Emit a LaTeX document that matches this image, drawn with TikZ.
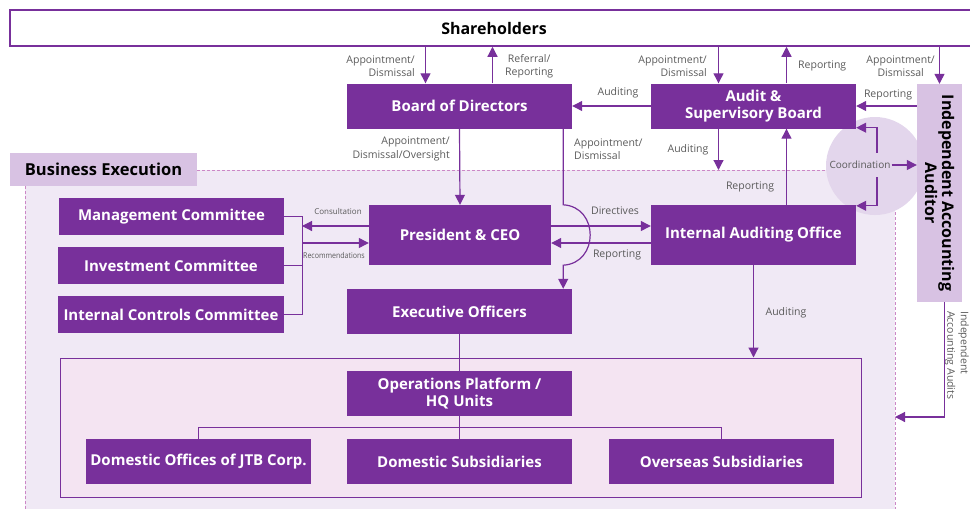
\documentclass[tikz,border=0pt]{standalone}
\usepackage{fontspec}
\setmainfont{Open Sans}
\newfontfamily\condfont[FakeStretch=0.88]{Open Sans}
\usetikzlibrary{arrows.meta}

\definecolor{jtbpurple}{RGB}{120,48,155}
\definecolor{jtblav}{RGB}{240,233,245}
\definecolor{jtbpink}{RGB}{244,228,242}
\definecolor{jtblight}{RGB}{216,194,227}
\definecolor{jtbcirc}{RGB}{227,214,236}
\definecolor{jtbdash}{RGB}{204,135,198}
\definecolor{jtbgray}{RGB}{90,90,90}

\begin{document}
\begin{tikzpicture}
  [x=1pt,y=-1pt,
   box/.style={rectangle,fill=jtbpurple,text=white,align=center,inner sep=0pt,
     font=\bfseries\fontsize{15}{17}\selectfont,minimum width=225pt,minimum height=45pt},
   lbl/.style={text=jtbgray,font=\fontsize{10.5}{13.5}\selectfont,inner sep=1pt},
   conn/.style={draw=jtbpurple,line width=1.2pt},
   arr/.style={conn,-{Triangle[length=10pt,width=10pt]}},
   dashborder/.style={draw=jtbdash,line width=0.9pt,dash pattern=on 3pt off 2pt}]
  \useasboundingbox (0,0) rectangle (970,509);

  \fill[jtblav] (25,170) rectangle (895,515);
  \draw[dashborder] (25,186) -- (25,515);
  \draw[dashborder] (197,170) -- (895,170) -- (895,515);
  \fill[jtbcirc] (875,166) circle (49pt);

  \node[rectangle,draw=jtbpurple,line width=1.5pt,fill=white,inner sep=0pt,minimum width=968pt,minimum height=36pt,
    font=\bfseries\fontsize{16}{19}\selectfont] (sh) at (494,28) {Shareholders};
  \node[rectangle,fill=jtblight,inner sep=0pt,minimum width=187pt,minimum height=33pt,
    font=\bfseries\fontsize{16.5}{19}\selectfont] (bex) at (103.5,169.5) {Business Execution};
  \node[rectangle,draw=jtbpurple,line width=1pt,fill=jtbpink,minimum width=801pt,minimum height=139pt] (opsf) at (460.5,427.5) {};

  \node[box] (bod) at (459.5,106) {Board of Directors};
  \node[box,minimum width=205pt] (asb) at (753.5,106) {Audit \&\\Supervisory Board};
  \node[rectangle,fill=jtblight,inner sep=0pt,minimum width=45pt,minimum height=218pt] (iaa) at (939.5,193) {};
  \node[rotate=-90,align=center,font=\bfseries\fontsize{16}{17}\selectfont] (iaat) at (iaa.center) {Independent Accounting\\Auditor};
  \node[box,minimum width=182pt,minimum height=60pt] (ceo) at (460,235) {President \& CEO};
  \node[box,minimum width=205pt,minimum height=60pt] (iao) at (753.5,235) {Internal Auditing Office};
  \node[box] (eo) at (459.5,311.5) {Executive Officers};
  \node[box,minimum height=37pt] (mc) at (171.5,216.5) {Management Committee};
  \node[box,minimum width=226pt,minimum height=37pt] (ic) at (171,265.5) {Investment Committee};
  \node[box,minimum width=226pt,minimum height=37pt] (icc) at (171,314.5) {Internal Controls Committee};
  \node[box] (op) at (459.5,393.5) {Operations Platform /\\HQ Units};
  \node[box] (doj) at (198.5,461.5) {Domestic Offices of JTB Corp.};
  \node[box] (ds) at (459.5,461.5) {Domestic Subsidiaries};
  \node[box] (os) at (721.5,461.5) {Overseas Subsidiaries};

  \node[lbl,anchor=east,align=right] (l1) at (416,66) {Appointment/\\Dismissal};
  \node[lbl,anchor=west,align=center] (l2) at (504,66) {Referral/\\Reporting};
  \node[lbl,anchor=east,align=right] (l3) at (708,66) {Appointment/\\Dismissal};
  \node[lbl,anchor=west] (l4) at (797,66) {Reporting};
  \node[lbl,anchor=east,align=center] (l5) at (936,66) {Appointment/\\Dismissal};
  \node[lbl] (l6) at (618,93) {Auditing};
  \node[lbl] (l7) at (888,95) {Reporting};
  \node[lbl,anchor=east,align=right] (l8) at (451,149) {Appointment/\\Dismissal/Oversight};
  \node[lbl,anchor=west,align=left] (l9) at (573,149) {Appointment/\\Dismissal};
  \node[lbl] (l10) at (688,150) {Auditing};
  \node[lbl] (l11) at (750,187) {Reporting};
  \node[lbl] (l12) at (615,211) {Directives};
  \node[lbl] (l13) at (617,255) {Reporting};
  \node[lbl,font=\fontsize{8}{10}\selectfont] (l14) at (338,211) {Consultation};
  \node[lbl,font=\condfont\fontsize{8}{10}\selectfont] (l15) at (334,255) {Recommendations};
  \node[lbl] (l16) at (786,313) {Auditing};
  \node[lbl,font=\fontsize{10}{12}\selectfont,inner xsep=1pt,inner ysep=8pt] (cd) at (860,165) {Coordination};
  \node[lbl,rotate=-90,anchor=north west,align=left,inner sep=0pt] (l17) at (969,311) {Independent\\Accounting Audits};

  \coordinate (cx) at (877,0);
  \coordinate (brk) at (302,0);
  \coordinate (betop) at (0,170);
  \coordinate (be2) at (895,417);

  \draw[arr] ([xshift=-34pt]bod.north |- sh.south) -- ([xshift=-34pt]bod.north);
  \draw[arr] ([xshift=33pt]bod.north) -- ([xshift=33pt]bod.north |- sh.south);
  \draw[arr] ([xshift=-35pt]asb.north |- sh.south) -- ([xshift=-35pt]asb.north);
  \draw[arr] ([xshift=33pt]asb.north) -- ([xshift=33pt]asb.north |- sh.south);
  \draw[arr] (iaa.north |- sh.south) -- (iaa.north);

  \foreach \from/\to in {asb.west/bod.east,bod.south/ceo.north,iao.south/iao.south |- opsf.north}
    \draw[arr] (\from) -- (\to);
  \draw[arr] (iaa.west |- asb.east) -- (asb.east);
  \draw[arr] ([xshift=-35pt]asb.south) -- ([xshift=-35pt]asb.south |- betop);
  \draw[arr] ([xshift=33pt]iao.north) -- ([xshift=33pt]asb.south);

  \coordinate (hop1) at ([xshift=-9pt]bod.south east |- ceo.north);
  \coordinate (hop2) at ([xshift=-9pt]bod.south east |- ceo.south);
  \draw[arr] ([xshift=-9pt]bod.south east) -- (hop1) .. controls +(36,2) and +(36,-2) .. (hop2) -- ([xshift=-9pt]eo.north east);

  \draw[arr] ([yshift=9pt]ceo.east) -- ([yshift=9pt]iao.west);
  \draw[arr] ([yshift=-8pt]iao.west) -- ([yshift=-8pt]ceo.east);

  \draw[conn,line width=1pt] (mc.east) -- (mc.east -| brk) -- (icc.east -| brk) -- (icc.east);
  \draw[conn,line width=1pt] (ic.east) -- (ic.east -| brk);
  \draw[arr] ([yshift=9pt]ceo.west) -- ([yshift=9pt]ceo.west -| brk);
  \draw[arr] ([yshift=-8pt]ceo.west -| brk) -- ([yshift=-8pt]ceo.west);

  \draw[arr] (cd.north -| cx) |- ([yshift=1pt]asb.south east);
  \draw[arr] (cd.south -| cx) |- ([yshift=-1pt]iao.north east);
  \draw[arr] (cd.east) -- (cd.east -| iaa.west);
  \draw[arr] ([xshift=5pt]iaa.south) |- (be2);

  \draw[conn,line width=1pt] (eo.south) -- (op.north);
  \draw[conn,line width=1pt] (op.south) -- (ds.north);
  \draw[conn,line width=1pt] (doj.north) -- ++(0,-11) -| (os.north);
\end{tikzpicture}
\end{document}
